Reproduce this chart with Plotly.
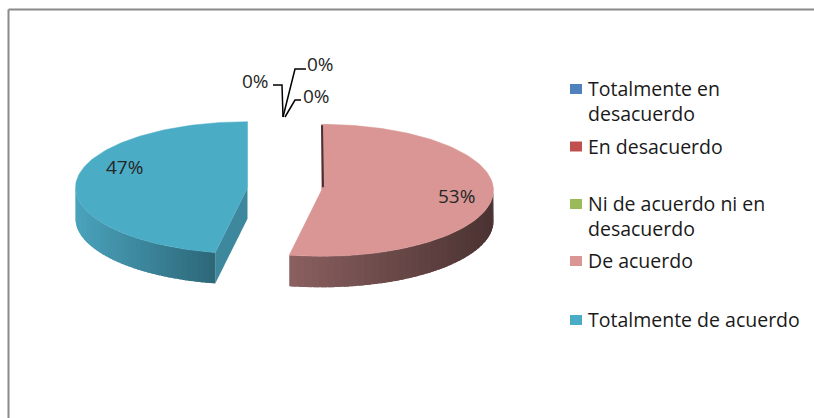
import math
import plotly.graph_objects as go

# ---------------- data ----------------
categories = ["Totalmente en desacuerdo", "En desacuerdo",
              "Ni de acuerdo ni en desacuerdo", "De acuerdo",
              "Totalmente de acuerdo"]
legend_labels = ["Totalmente en<br>desacuerdo", "En desacuerdo",
                 "Ni de acuerdo ni en<br>desacuerdo", "De acuerdo",
                 "Totalmente de acuerdo"]
values = [0, 0, 0, 53, 47]
colors = ["#4F81BD", "#C0504D", "#9BBB59", "#D99694", "#4BACC6"]
side_left = ["#3E6A9E", "#9E3F3C", "#7E9A47", "#8A6060", "#4AA3BC"]
side_right = ["#2E4F76", "#733030", "#5E7335", "#4B3232", "#2D6778"]

# ---------------- geometry (style) ----------------
W, H = 814, 418
cx, cy = 284.5, 189.0      # pie centre (pixel-like axis units)
A, B = 172.0, 66.0         # ellipse semi axes
DEPTH = 31.0
EXPLODE = 0.216
FONT = "Open Sans"
LEG_FS = 19.5
LAB_FS = 19


def hex2rgb(h):
    h = h.lstrip("#")
    return tuple(int(h[i:i + 2], 16) for i in (0, 2, 4))


def mix(c1, c2, t):
    a, b = hex2rgb(c1), hex2rgb(c2)
    return "rgb(%d,%d,%d)" % tuple(round(a[i] + (b[i] - a[i]) * t) for i in range(3))


def pt(ox, oy, deg, r=1.0):
    th = math.radians(deg)
    return ox + r * A * math.sin(th), oy - r * B * math.cos(th)


fig = go.Figure()
total = sum(values)
starts = []
acc = 0.0
for v in values:
    starts.append(acc)
    acc += v / total * 360.0

slices = []
for i, v in enumerate(values):
    if v <= 0:
        continue
    s = starts[i]
    e = s + v / total * 360.0
    mid = (s + e) / 2
    ox = cx + EXPLODE * A * math.sin(math.radians(mid))
    oy = cy - EXPLODE * B * math.cos(math.radians(mid))
    slices.append((i, s, e, mid, ox, oy))

for (i, s, e, mid, ox, oy) in sorted(slices, key=lambda t: -abs(t[3] - 180)):
    # radial cut faces that face the viewer
    for edge in (s, e):
        nd = edge - 90 if edge == s else edge + 90
        if math.cos(math.radians(nd - 180)) > 0.05:
            px, py = pt(ox, oy, edge)
            fig.add_trace(go.Scatter(
                x=[ox, px, px, ox, ox], y=[oy, py, py + DEPTH, oy + DEPTH, oy],
                mode="lines", fill="toself", fillcolor=mix(side_left[i], side_right[i], 0.45),
                line=dict(width=0), hoverinfo="skip", showlegend=False))
    # outer curved side (front half only), shaded strips
    a0, a1 = max(s, 90.0), min(e, 270.0)
    if a1 > a0:
        n = 40
        step = (a1 - a0) / n
        xs_all = [pt(ox, oy, a0 + step * k)[0] for k in range(n + 1)]
        xmin, xmax = min(xs_all), max(xs_all)
        for k in range(n):
            g0 = a0 + step * k
            g1 = min(a1, g0 + step * 1.8)
            m = 6
            arc = [pt(ox, oy, g0 + (g1 - g0) * q / m) for q in range(m + 1)]
            px_ = [p[0] for p in arc] + [p[0] for p in reversed(arc)] + [arc[0][0]]
            py_ = [p[1] for p in arc] + [p[1] + DEPTH for p in reversed(arc)] + [arc[0][1]]
            t = (pt(ox, oy, g0 + step / 2)[0] - xmin) / (xmax - xmin)
            fig.add_trace(go.Scatter(
                x=px_, y=py_, mode="lines", fill="toself",
                fillcolor=mix(side_left[i], side_right[i], t),
                line=dict(width=0), hoverinfo="skip", showlegend=False))
    # top face
    n = 120
    xs, ys = [ox], [oy]
    for k in range(n + 1):
        px, py = pt(ox, oy, s + (e - s) * k / n)
        xs.append(px)
        ys.append(py)
    xs.append(ox)
    ys.append(oy)
    fig.add_trace(go.Scatter(
        x=xs, y=ys, mode="lines", fill="toself", fillcolor=colors[i],
        line=dict(width=0.5, color=colors[i]), name=categories[i],
        hovertemplate=categories[i] + ": %d%%<extra></extra>" % round(values[i] / total * 100),
        showlegend=False))
    # thin visible sliver at the back cut edge
    if s < 1:
        px, py = pt(ox, oy, s)
        fig.add_trace(go.Scatter(x=[ox + 1.5, px + 0.5], y=[oy - 3, py + 1], mode="lines",
                                 line=dict(width=2, color=side_right[i]),
                                 hoverinfo="skip", showlegend=False))

# percentage labels on non-zero slices
label_r = {3: 0.79, 4: 0.72}
label_dy = {3: 1, 4: -16}
for (i, s, e, mid, ox, oy) in slices:
    lx, ly = pt(ox, oy, mid, label_r.get(i, 0.7))
    fig.add_annotation(x=lx, y=ly + label_dy.get(i, 0), text="%d%%" % round(values[i] / total * 100),
                       showarrow=False, font=dict(family=FONT, size=LAB_FS, color="#262626"))

# zero-value labels with bent leader lines at the top of the pie
ax0, ay0 = cx - 1.5, cy - B - 6
zero_ids = [k for k, v in enumerate(values) if v == 0]
lab_off = [(-28, -36), (37, -53), (33, -21)]
line_off = [[(-10, -32), (-1, -32), (0, 0)],
            [(23, -48), (12, -48), (0, 0)],
            [(18, -17), (12, -17), (2, 0)]]
for j, k in enumerate(zero_ids):
    dx, dy = lab_off[j]
    fig.add_annotation(x=ax0 + dx, y=ay0 + dy, text="%d%%" % round(values[k] / total * 100),
                       showarrow=False, font=dict(family=FONT, size=LAB_FS, color="#262626"))
    fig.add_trace(go.Scatter(x=[ax0 + p[0] for p in line_off[j]],
                             y=[ay0 + p[1] for p in line_off[j]],
                             mode="lines", line=dict(color="#000000", width=1.5),
                             hoverinfo="skip", showlegend=False))

# legend (squares + text)
leg_y = [89, 146.5, 204, 261, 320]
for k, cat in enumerate(categories):
    fig.add_shape(type="rect", x0=570, x1=582, y0=leg_y[k] - 5, y1=leg_y[k] + 5,
                  fillcolor=colors[k], line=dict(width=0))
    fig.add_annotation(x=586, y=leg_y[k] - 16, text=legend_labels[k], showarrow=False,
                       xanchor="left", yanchor="top", align="left",
                       font=dict(family=FONT, size=LEG_FS, color="#1a1a1a"))

# outer frame (top and left)
fig.add_shape(type="line", x0=8.5, x1=W, y0=9.5, y1=9.5, line=dict(color="#8a8a8a", width=2))
fig.add_shape(type="line", x0=8.5, x1=8.5, y0=9.5, y1=H, line=dict(color="#8a8a8a", width=2))

fig.update_layout(
    width=W, height=H, margin=dict(l=0, r=0, t=0, b=0),
    paper_bgcolor="white", plot_bgcolor="white",
    xaxis=dict(range=[0, W], visible=False, fixedrange=True),
    yaxis=dict(range=[H, 0], visible=False, fixedrange=True),
    showlegend=False,
)
fig.write_html("out.html", config={"displayModeBar": False},
               post_script="document.body.style.margin='0';document.body.style.overflow='hidden';")
